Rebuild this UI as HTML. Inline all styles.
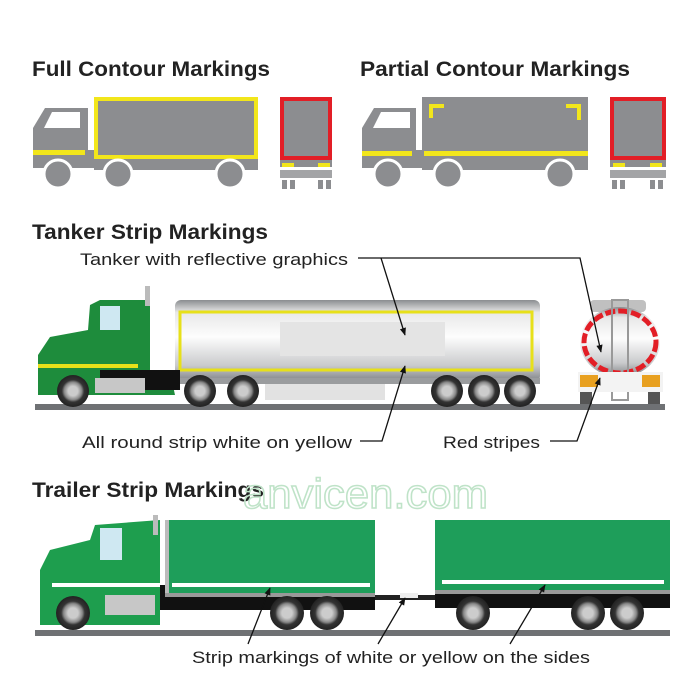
<!DOCTYPE html>
<html><head><meta charset="utf-8"><style>html,body{margin:0;padding:0;background:#fff}svg{display:block}</style></head>
<body>
<svg width="700" height="700" viewBox="0 0 700 700" xmlns="http://www.w3.org/2000/svg" font-family="'Liberation Sans Narrow','Liberation Sans',sans-serif">
<defs>
<linearGradient id="tank" x1="0" y1="0" x2="0" y2="1">
<stop offset="0" stop-color="#8a8d90"/><stop offset="0.15" stop-color="#e8e8e8"/><stop offset="0.45" stop-color="#fdfdfd"/><stop offset="0.8" stop-color="#c9cacc"/><stop offset="1" stop-color="#7d8083"/></linearGradient>
<radialGradient id="wh"><stop offset="0.3" stop-color="#ccc"/><stop offset="0.55" stop-color="#888"/><stop offset="0.7" stop-color="#333"/><stop offset="1" stop-color="#222"/></radialGradient>
<marker id="ar" viewBox="0 0 10 10" refX="9" refY="5" markerWidth="6" markerHeight="6" orient="auto"><path d="M0 1 L10 5 L0 9 Z" fill="#111"/></marker>
</defs>
<g font-weight="bold" fill="#222" font-size="21">
<text x="32" y="76" textLength="238" lengthAdjust="spacingAndGlyphs">Full Contour Markings</text>
<text x="360" y="76" textLength="270" lengthAdjust="spacingAndGlyphs">Partial Contour Markings</text>
<text x="32" y="239" textLength="236" lengthAdjust="spacingAndGlyphs">Tanker Strip Markings</text>
<text x="32" y="497" textLength="232" lengthAdjust="spacingAndGlyphs">Trailer Strip Markings</text>
</g>
<g fill="#8c8d90">
<path d="M33 160 L33 128 L45 108 L88 108 L88 160 Z"/>
<rect x="88" y="150" width="8" height="18"/>
<rect x="94" y="97" width="164" height="73"/>
<rect x="33" y="150" width="60" height="18"/>
</g>
<path d="M44 128 L52 112 L80 112 L80 128 Z" fill="#fff"/>
<rect x="96" y="99" width="160" height="58" fill="none" stroke="#f2e61b" stroke-width="4"/>
<rect x="33" y="150" width="52" height="5" fill="#f2e61b"/>
<g fill="#8c8d90" stroke="#fff" stroke-width="3"><circle cx="58" cy="174" r="14"/><circle cx="118" cy="174" r="14"/><circle cx="230" cy="174" r="14"/></g>
<rect x="280" y="97" width="52" height="70" fill="#8c8d90"/>
<rect x="282" y="99" width="48" height="59" fill="none" stroke="#e21e26" stroke-width="4"/>
<rect x="282" y="163" width="12" height="4" fill="#f2e61b"/><rect x="318" y="163" width="12" height="4" fill="#f2e61b"/>
<rect x="280" y="170" width="52" height="8" fill="#a3a4a6"/>
<g fill="#8c8d90"><rect x="282" y="180" width="5" height="9"/><rect x="290" y="180" width="5" height="9"/><rect x="318" y="180" width="5" height="9"/><rect x="326" y="180" width="5" height="9"/></g>
<g fill="#8c8d90">
<path d="M362 160 L362 128 L374 108 L416 108 L416 160 Z"/>
<rect x="416" y="150" width="8" height="18"/>
<rect x="422" y="97" width="166" height="73"/>
<rect x="362" y="150" width="60" height="18"/>
</g>
<path d="M373 128 L381 112 L410 112 L410 128 Z" fill="#fff"/>
<rect x="362" y="151" width="50" height="5" fill="#f2e61b"/>
<rect x="424" y="151" width="164" height="5" fill="#f2e61b"/>
<path d="M431 118 L431 106 L444 106" fill="none" stroke="#f2e61b" stroke-width="4"/>
<path d="M566 106 L579 106 L579 120" fill="none" stroke="#f2e61b" stroke-width="4"/>
<g fill="#8c8d90" stroke="#fff" stroke-width="3"><circle cx="388" cy="174" r="14"/><circle cx="448" cy="174" r="14"/><circle cx="560" cy="174" r="14"/></g>
<rect x="610" y="97" width="56" height="70" fill="#8c8d90"/>
<rect x="612" y="99" width="52" height="59" fill="none" stroke="#e21e26" stroke-width="4"/>
<rect x="613" y="163" width="12" height="4" fill="#f2e61b"/><rect x="650" y="163" width="12" height="4" fill="#f2e61b"/>
<rect x="610" y="170" width="56" height="8" fill="#a3a4a6"/>
<g fill="#8c8d90"><rect x="612" y="180" width="5" height="9"/><rect x="620" y="180" width="5" height="9"/><rect x="650" y="180" width="5" height="9"/><rect x="658" y="180" width="5" height="9"/></g>

<rect x="35" y="404" width="630" height="6" fill="#6f7174"/>
<rect x="175" y="300" width="365" height="82" rx="6" fill="url(#tank)"/>
<rect x="180" y="312" width="352" height="58" fill="none" stroke="#e7e01a" stroke-width="3"/>
<rect x="280" y="322" width="165" height="34" fill="#e4e4e4"/>
<rect x="265" y="382" width="120" height="18" fill="#e2e2e2"/>
<rect x="175" y="378" width="365" height="6" fill="#9a9c9e"/>
<path d="M38 395 L38 355 L50 337 L88 330 L90 305 L100 300 L150 300 L150 372 L170 372 L175 395 Z" fill="#1e8c3c"/>
<rect x="145" y="286" width="5" height="20" fill="#bbb"/>
<path d="M100 306 L120 306 L120 330 L100 330 Z" fill="#cfe8f2"/>
<rect x="38" y="364" width="100" height="4" fill="#e7e01a"/>
<rect x="100" y="370" width="80" height="20" fill="#111"/>
<rect x="95" y="378" width="50" height="15" fill="#c7c7c7"/>
<g fill="url(#wh)">
<circle cx="73" cy="391" r="16"/><circle cx="200" cy="391" r="16"/><circle cx="243" cy="391" r="16"/>
<circle cx="447" cy="391" r="16"/><circle cx="484" cy="391" r="16"/><circle cx="520" cy="391" r="16"/></g>
<rect x="590" y="300" width="56" height="12" rx="4" fill="#c0c0c0"/>
<ellipse cx="620" cy="342" rx="40" ry="35" fill="url(#tank)"/>
<ellipse cx="620" cy="342" rx="36" ry="31" fill="none" stroke="#e21e26" stroke-width="5" stroke-dasharray="10 3"/>
<rect x="612" y="300" width="16" height="100" fill="none" stroke="#999" stroke-width="2"/>
<rect x="578" y="372" width="85" height="20" fill="#f3f3f3"/>
<rect x="580" y="375" width="18" height="12" fill="#e8a020"/><rect x="642" y="375" width="18" height="12" fill="#e8a020"/>
<rect x="580" y="392" width="12" height="12" fill="#555"/><rect x="648" y="392" width="12" height="12" fill="#555"/>
<g font-size="17" fill="#222">
<text x="80" y="265" textLength="268" lengthAdjust="spacingAndGlyphs">Tanker with reflective graphics</text>
<text x="82" y="448" textLength="270" lengthAdjust="spacingAndGlyphs">All round strip white on yellow</text>
<text x="443" y="448" textLength="97" lengthAdjust="spacingAndGlyphs">Red stripes</text>
<text x="192" y="663" textLength="398" lengthAdjust="spacingAndGlyphs">Strip markings of white or yellow on the sides</text>
</g>
<g stroke="#111" stroke-width="1.3" fill="none" marker-end="url(#ar)">
<path d="M358 258 L580 258 L601 352"/><path d="M381 258 L405 335"/>
<path d="M360 441 L382 441 L405 366"/><path d="M550 441 L577 441 L600 378"/>
</g>
<text x="243" y="508" font-family="'Liberation Sans',sans-serif" font-size="42" fill="none" stroke="#bfe3c8" stroke-width="1.5" textLength="245" lengthAdjust="spacingAndGlyphs">anvicen.com</text>
<rect x="35" y="630" width="635" height="6" fill="#6f7174"/>
<rect x="150" y="585" width="225" height="25" fill="#111"/>
<rect x="375" y="595" width="65" height="5" fill="#222"/>
<rect x="400" y="593" width="18" height="5" fill="#eee"/>
<rect x="435" y="590" width="235" height="18" fill="#111"/>
<path d="M40 625 L40 570 L50 550 L90 540 L95 525 L160 520 L160 625 Z" fill="#1e9e4e"/>
<rect x="153" y="515" width="5" height="20" fill="#bbb"/>
<path d="M100 528 L122 528 L122 560 L100 560 Z" fill="#cfe8f2"/>
<rect x="52" y="583" width="108" height="4" fill="#fff"/>
<rect x="105" y="595" width="50" height="20" fill="#c7c7c7"/>
<rect x="165" y="520" width="210" height="75" fill="#1e9e5a"/>
<rect x="165" y="520" width="4" height="75" fill="#bbb"/>
<rect x="172" y="583" width="198" height="4" fill="#fff"/>
<rect x="435" y="520" width="235" height="72" fill="#1e9e5a"/>
<rect x="442" y="580" width="222" height="4" fill="#fff"/>
<rect x="165" y="593" width="210" height="4" fill="#999"/><rect x="435" y="590" width="235" height="4" fill="#999"/>
<g fill="url(#wh)">
<circle cx="73" cy="613" r="17"/><circle cx="287" cy="613" r="17"/><circle cx="327" cy="613" r="17"/>
<circle cx="473" cy="613" r="17"/><circle cx="588" cy="613" r="17"/><circle cx="627" cy="613" r="17"/></g>
<g stroke="#111" stroke-width="1.3" fill="none" marker-end="url(#ar)">
<path d="M248 644 L270 588"/><path d="M378 644 L405 598"/><path d="M510 644 L545 585"/>
</g>
</svg>
</body></html>
